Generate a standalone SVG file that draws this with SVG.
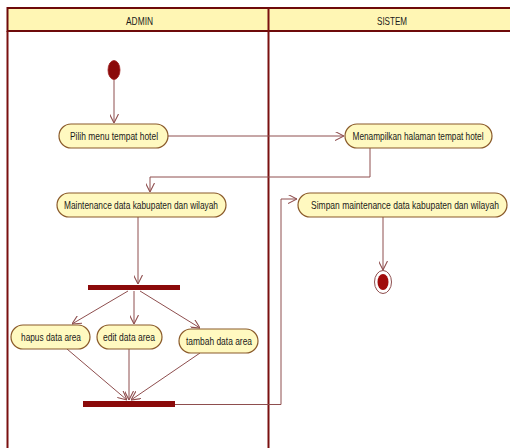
<svg xmlns="http://www.w3.org/2000/svg" width="510" height="448" viewBox="0 0 510 448">
<defs>
<style>
.lane{fill:none;stroke:#7a1010;stroke-width:2}
.hdr{fill:#fff6b4;stroke:#6e0a0a;stroke-width:2}
.act{fill:#fff9c0;stroke:#8a5a2a;stroke-width:1.2}
.t{font-family:"Liberation Sans",Arial,sans-serif;font-size:11px;fill:#1a1a1a;text-anchor:middle}
.c{fill:none;stroke:#8e4e4e;stroke-width:1}
.bar{fill:#8b0a0a}
</style>
<marker id="ah" viewBox="0 0 10 10" refX="10" refY="5" markerWidth="9" markerHeight="9" orient="auto" markerUnits="userSpaceOnUse">
<path d="M0,0 L10,5 L0,10" fill="none" stroke="#8e4e4e" stroke-width="1.2"/>
</marker>
</defs>
<rect width="510" height="448" fill="#ffffff"/>
<g id="swimlanes">
<rect class="hdr" x="7.5" y="8" width="510" height="23"/>
<line class="lane" x1="7.5" y1="31" x2="7.5" y2="450"/>
<line class="lane" x1="268.5" y1="8" x2="268.5" y2="450"/>
<text class="t" transform="translate(139.5,25) scale(0.76,1)" textLength="35.5" lengthAdjust="spacingAndGlyphs">ADMIN</text>
<text class="t" transform="translate(392,25) scale(0.76,1)" textLength="39.5" lengthAdjust="spacingAndGlyphs">SISTEM</text>
</g>
<g id="connectors">
<line class="c" x1="114" y1="79" x2="114" y2="123" marker-end="url(#ah)"/>
<line class="c" x1="168" y1="136" x2="344" y2="136" marker-end="url(#ah)"/>
<polyline class="c" points="370,148 370,177 150,177 150,192" marker-end="url(#ah)"/>
<line class="c" x1="138" y1="217" x2="138" y2="284" marker-end="url(#ah)"/>
<line class="c" x1="128" y1="291" x2="72" y2="324" marker-end="url(#ah)"/>
<line class="c" x1="134" y1="291" x2="134" y2="324" marker-end="url(#ah)"/>
<line class="c" x1="140" y1="291" x2="200" y2="328" marker-end="url(#ah)"/>
<line class="c" x1="67" y1="349" x2="127" y2="400" marker-end="url(#ah)"/>
<line class="c" x1="129" y1="349" x2="129" y2="400" marker-end="url(#ah)"/>
<line class="c" x1="200" y1="353" x2="131" y2="400" marker-end="url(#ah)"/>
<polyline class="c" points="175,404.5 281,404.5 281,199 297,199" marker-end="url(#ah)"/>
<line class="c" x1="383" y1="217" x2="383" y2="270" marker-end="url(#ah)"/>
</g>
<g id="start">
<ellipse cx="114" cy="70" rx="6" ry="9.5" fill="#8b0a0a" stroke="#a02020" stroke-width="0.8"/>
</g>
<g id="pilih">
<rect class="act" x="59" y="124" width="109" height="24" rx="12"/>
<text class="t" transform="translate(114,140) scale(0.76,1)" textLength="115.8" lengthAdjust="spacingAndGlyphs">Pilih menu tempat hotel</text>
</g>
<g id="menampilkan">
<rect class="act" x="345" y="124" width="147" height="24" rx="12"/>
<text class="t" transform="translate(418,140) scale(0.76,1)" textLength="172.4" lengthAdjust="spacingAndGlyphs">Menampilkan halaman tempat hotel</text>
</g>
<g id="maintenance">
<rect class="act" x="57" y="193" width="169" height="24" rx="12"/>
<text class="t" transform="translate(141,209) scale(0.76,1)" textLength="202.6" lengthAdjust="spacingAndGlyphs">Maintenance data kabupaten dan wilayah</text>
</g>
<g id="simpan">
<rect class="act" x="298" y="193" width="209" height="24" rx="12"/>
<text class="t" transform="translate(405,209) scale(0.76,1)" textLength="247.4" lengthAdjust="spacingAndGlyphs">Simpan maintenance data kabupaten dan wilayah</text>
</g>
<g id="fork">
<rect class="bar" x="88" y="285" width="92" height="5"/>
</g>
<g id="hapus">
<rect class="act" x="11" y="325" width="79" height="24" rx="12"/>
<text class="t" transform="translate(51,341) scale(0.76,1)" textLength="78.9" lengthAdjust="spacingAndGlyphs">hapus data area</text>
</g>
<g id="edit">
<rect class="act" x="97" y="325" width="65" height="24" rx="12"/>
<text class="t" transform="translate(129,341) scale(0.76,1)" textLength="68.4" lengthAdjust="spacingAndGlyphs">edit data area</text>
</g>
<g id="tambah">
<rect class="act" x="179" y="329" width="79" height="24" rx="12"/>
<text class="t" transform="translate(219,345) scale(0.76,1)" textLength="86.8" lengthAdjust="spacingAndGlyphs">tambah data area</text>
</g>
<g id="join">
<rect class="bar" x="83" y="401" width="92" height="6"/>
</g>
<g id="end">
<ellipse cx="383" cy="282" rx="8.5" ry="11.5" fill="#ffffff" stroke="#8e4e4e" stroke-width="1"/>
<ellipse cx="383" cy="282" rx="5.5" ry="8" fill="#a00a0a"/>
</g>
</svg>
